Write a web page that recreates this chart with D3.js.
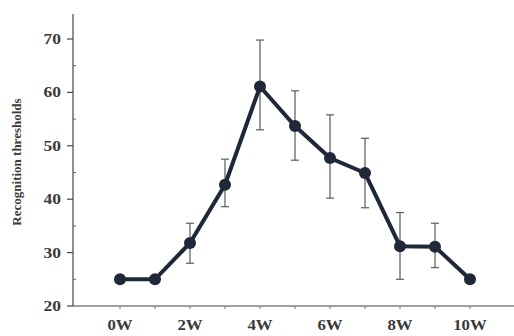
<!DOCTYPE html>
<html>
<head>
<meta charset="utf-8">
<script src="https://cdn.jsdelivr.net/npm/d3@7"></script>
<style>
  body { margin: 0; background: #fff; }
  text { font-family: "Liberation Serif", "DejaVu Serif", serif; font-weight: bold; fill: #3a3a3a; }
</style>
</head>
<body>
<div id="chart"></div>
<script>
const weeks = [0, 1, 2, 3, 4, 5, 6, 7, 8, 9, 10]
const means = [25, 25, 31.8, 42.7, 61.1, 53.7, 47.7, 44.9, 31.2, 31.1, 25]
const errTop = [null, null, 35.5, 47.5, 69.8, 60.3, 55.8, 51.4, 37.5, 35.5, null]
const errBot = [null, null, 28, 38.6, 53, 47.3, 40.2, 38.4, 25, 27.2, null]
const yTicks = [20, 30, 40, 50, 60, 70]
const xLabels = [0, 2, 4, 6, 8, 10]

const width = 514, height = 336

const svg = d3.select('#chart').append('svg').attr('width', width).attr('height', height)

const x = d3.scaleLinear().domain([0, 10]).range([120, 470])
const y = d3.scaleLinear().domain([20, 70]).range([306, 39])

// y axis
let yAxis = svg.append('g').attr('transform', 'translate(73,0)')
yAxis.append('line').attr('x1', 0).attr('x2', 0).attr('y1', 14).attr('y2', 306)
    .attr('stroke', '#444').attr('stroke-width', 1.2)
yAxis.selectAll('line.minor')
    .data(d3.range(25, 75, 10))
    .enter().append('line').attr('class', 'minor')
    .attr('x1', 0).attr('x2', 3)
    .attr('y1', d => y(d)).attr('y2', d => y(d))
    .attr('stroke', '#666')
yAxis.selectAll('line.major')
    .data(yTicks)
    .enter().append('line').attr('class', 'major')
    .attr('x1', -6).attr('x2', 0)
    .attr('y1', d => y(d)).attr('y2', d => y(d))
    .attr('stroke', '#444').attr('stroke-width', 1.2)
yAxis.selectAll('text')
    .data(yTicks)
    .enter().append('text')
    .attr('transform', d => 'translate(-12,' + y(d) + ') scale(1.25,1)')
    .attr('dy', '.35em')
    .attr('text-anchor', 'end').style('font-size', '14px')
    .text(d => d)

svg.append('text')
    .attr('transform', 'translate(21,162) rotate(-90)')
    .attr('text-anchor', 'middle').style('font-size', '13px')
    .text('Recognition thresholds')

// x axis
let xAxis = svg.append('g').attr('transform', 'translate(0,306)')
xAxis.append('line').attr('x1', 73).attr('x2', 514).attr('y1', 0).attr('y2', 0)
    .attr('stroke', '#444').attr('stroke-width', 1.2)
xAxis.selectAll('line.tick')
    .data(weeks)
    .enter().append('line').attr('class', 'tick')
    .attr('x1', d => x(d)).attr('x2', d => x(d))
    .attr('y1', 0).attr('y2', 3)
    .attr('stroke', '#777')
xAxis.selectAll('text')
    .data(xLabels)
    .enter().append('text')
    .attr('transform', d => 'translate(' + x(d) + ',24) scale(1.2,1)')
    .attr('text-anchor', 'middle').style('font-size', '14px')
    .text(d => d + 'W')

// error bars
const errData = weeks.map((w, i) => ({w: w, t: errTop[i], b: errBot[i]})).filter(d => d.t != null)
let errGroup = svg.append('g').attr('stroke', '#666').attr('stroke-width', 1.3)
errGroup.selectAll('line.v')
    .data(errData).enter().append('line').attr('class', 'v')
    .attr('x1', d => x(d.w)).attr('x2', d => x(d.w))
    .attr('y1', d => y(d.t)).attr('y2', d => y(d.b))
errGroup.selectAll('line.t')
    .data(errData).enter().append('line').attr('class', 't')
    .attr('x1', d => x(d.w) - 4).attr('x2', d => x(d.w) + 4)
    .attr('y1', d => y(d.t)).attr('y2', d => y(d.t))
errGroup.selectAll('line.b')
    .data(errData).enter().append('line').attr('class', 'b')
    .attr('x1', d => x(d.w) - 4).attr('x2', d => x(d.w) + 4)
    .attr('y1', d => y(d.b)).attr('y2', d => y(d.b))

// line + points
const line = d3.line().x((d, i) => x(weeks[i])).y(d => y(d))
svg.append('path')
    .datum(means)
    .attr('d', line)
    .attr('fill', 'none')
    .attr('stroke', '#1f2838')
    .attr('stroke-width', 4)

svg.selectAll('circle')
    .data(means)
    .enter().append('circle')
    .attr('cx', (d, i) => x(weeks[i]))
    .attr('cy', d => y(d))
    .attr('r', 6)
    .attr('fill', '#1f2838')
</script>
</body>
</html>
